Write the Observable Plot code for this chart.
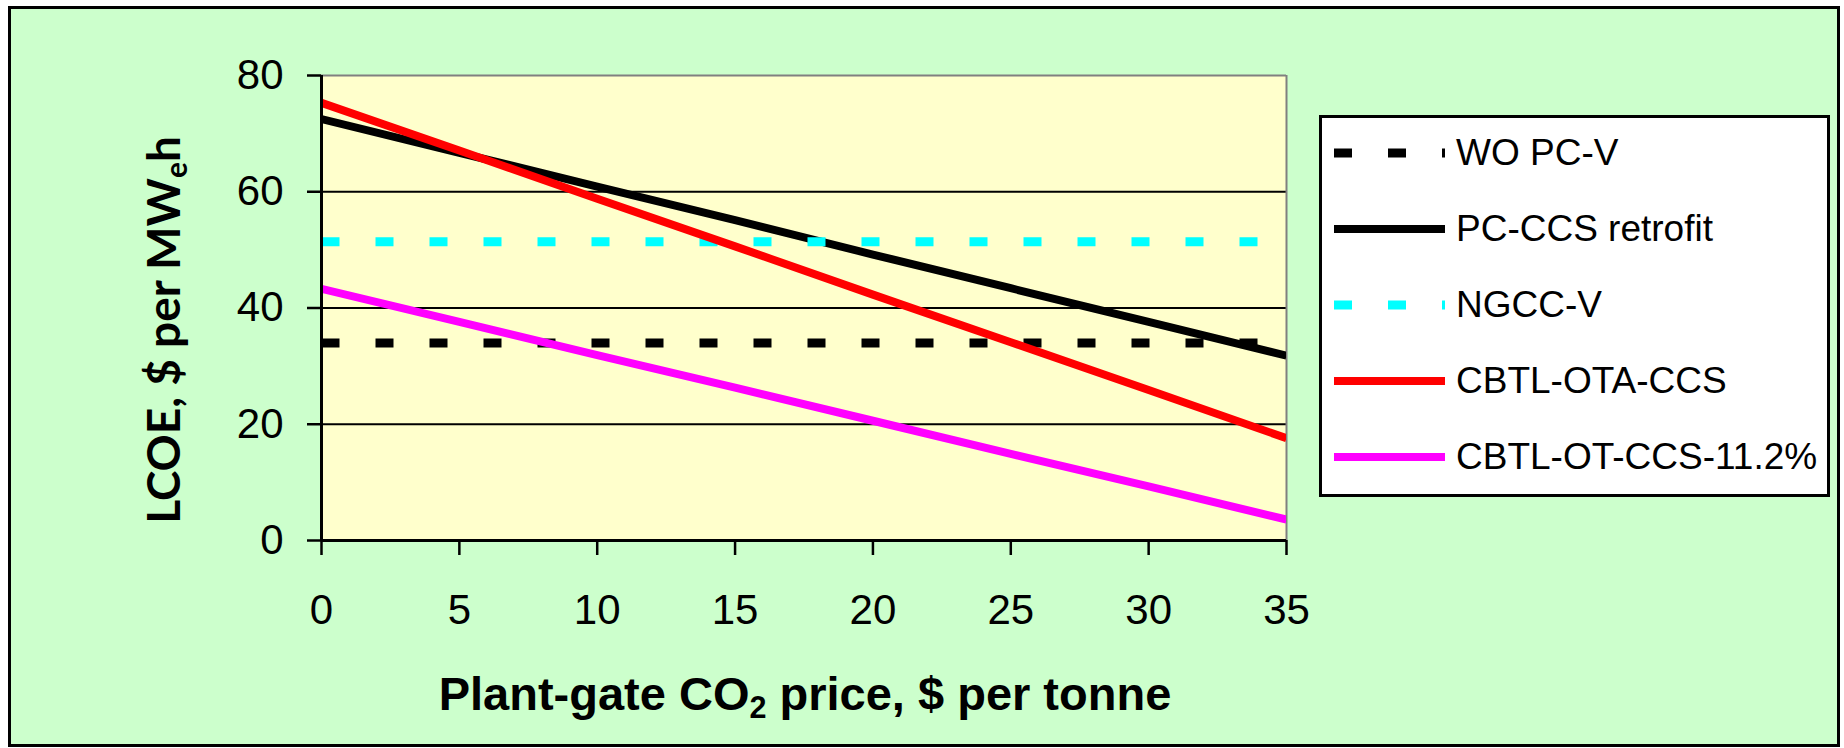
<!DOCTYPE html>
<html>
<head>
<meta charset="utf-8">
<script src="https://cdn.jsdelivr.net/npm/d3@7"></script>
<script src="https://cdn.jsdelivr.net/npm/@observablehq/plot@0.6"></script>
<style>
  body { margin: 0; background: #ffffff; }
  #wrap { position: relative; width: 1844px; height: 748px; overflow: hidden; background: #ffffff; }
  #bg { position: absolute; left: 8px; top: 6px; width: 1832px; height: 741px; box-sizing: border-box; border: 3px solid #000; background: #CCFFCC; }
  #chart { position: absolute; left: 0; top: 0; }
  #legend { position: absolute; left: 1319px; top: 115px; width: 511px; height: 382px; box-sizing: border-box; border: 3px solid #000; background: #ffffff; }
  .row { position: absolute; left: 0; height: 37px; width: 505px; }
  .row svg { position: absolute; left: 12px; top: 13px; }
  .row span { position: absolute; left: 134px; top: 0; font: 37px/37px "Liberation Sans", Arial, sans-serif; color: #000; white-space: nowrap; }
  .xtitle { position: absolute; left: 805px; top: 670px; transform: translateX(-50%); font: bold 47px/47px "Liberation Sans", Arial, sans-serif; white-space: nowrap; color: #000; }
  .ytitle { position: absolute; left: 163px; top: 330px; transform: translate(-50%, -50%) rotate(-90deg); font: bold 46px/46px Lato, "Open Sans", sans-serif; white-space: nowrap; color: #000; }
  sub { font-size: 0.65em; vertical-align: -0.25em; line-height: 0; }
</style>
</head>
<body>
<div id="wrap">
  <div id="bg"></div>
  <div id="chart"></div>
  <div class="xtitle">Plant-gate CO<sub>2</sub> price, $ per tonne</div>
  <div class="ytitle">LCOE, $ per MW<sub>e</sub>h</div>
  <div id="legend"></div>
</div>
<script>
// ---- data ----
const co2Price = [0, 5, 10, 15, 20, 25, 30, 35];
const pcCcsRetrofit = [72.5, 66.7, 60.9, 55.1, 49.2, 43.4, 37.6, 31.8];
const cbtlOtaCcs = [75.3, 67.1, 58.8, 50.6, 42.3, 34.1, 25.9, 17.6];
const cbtlOtCcs112 = [43.3, 37.6, 31.9, 26.3, 20.6, 14.9, 9.3, 3.6];
const woPcV = 34.0;
const ngccV = 51.4;
const xTicks = [0, 5, 10, 15, 20, 25, 30, 35];
const yTicks = [0, 20, 40, 60, 80];
const seriesNames = ["WO PC-V", "PC-CCS retrofit", "NGCC-V", "CBTL-OTA-CCS", "CBTL-OT-CCS-11.2%"];
const seriesColors = ["#000000", "#000000", "#00FFFF", "#FF0000", "#FF00FF"];
const seriesDashed = [true, false, true, false, false];

// ---- tables ----
const rows = [];
co2Price.forEach((x, i) => {
  rows.push({x, y: woPcV, s: seriesNames[0]});
  rows.push({x, y: pcCcsRetrofit[i], s: seriesNames[1]});
  rows.push({x, y: ngccV, s: seriesNames[2]});
  rows.push({x, y: cbtlOtaCcs[i], s: seriesNames[3]});
  rows.push({x, y: cbtlOtCcs112[i], s: seriesNames[4]});
});

const lineMarks = seriesNames.map((name, k) =>
  Plot.line(rows.filter(d => d.s === name), {
    x: "x", y: "y",
    stroke: seriesColors[k],
    strokeWidth: seriesDashed[k] ? 9 : 8,
    strokeDasharray: seriesDashed[k] ? "18 36" : null,
    strokeLinecap: "butt",
    clip: true
  })
);

const chart = Plot.plot({
  width: 1844,
  height: 748,
  marginLeft: 321,
  marginRight: 558,
  marginTop: 75,
  marginBottom: 208,
  style: { background: "transparent", fontFamily: "'Liberation Sans', Arial, sans-serif", fontSize: "42px", color: "#000", overflow: "visible" },
  x: { domain: [0, 35] },
  y: { domain: [0, 80] },
  marks: [
    Plot.frame({ fill: "#FFFFCC", stroke: "none" }),
    Plot.ruleY(yTicks.filter(v => v > 0 && v < 80), { stroke: "#000", strokeWidth: 2 }),
    Plot.ruleY([80], { stroke: "#808080", strokeWidth: 2 }),
    Plot.ruleX([35], { stroke: "#808080", strokeWidth: 2 }),
    ...lineMarks,
    Plot.ruleX([0], { stroke: "#000", strokeWidth: 3 }),
    Plot.ruleY([0], { stroke: "#000", strokeWidth: 3 }),
    Plot.axisX({ ticks: xTicks, tickSize: 15, tickPadding: 39, tickFormat: d => String(d), label: null, strokeWidth: 2.5, fontSize: 42 }),
    Plot.axisY({ ticks: yTicks, tickSize: 14, tickPadding: 24, tickFormat: d => String(d), label: null, strokeWidth: 2.5, fontSize: 42 })
  ]
});
document.getElementById("chart").appendChild(chart);

// ---- legend ----
const legend = document.getElementById("legend");
seriesNames.forEach((name, k) => {
  const row = document.createElement("div");
  row.className = "row";
  row.style.top = (34.7 + k * 75.9 - 18.5) + "px";
  const dash = seriesDashed[k] ? ' stroke-dasharray="18 36"' : '';
  const sw = seriesDashed[k] ? 9 : 8;
  row.innerHTML = `<svg width="111" height="12"><line x1="0" x2="111" y1="6" y2="6" stroke="${seriesColors[k]}" stroke-width="${sw}"${dash}/></svg><span>${name}</span>`;
  legend.appendChild(row);
});
</script>
</body>
</html>
